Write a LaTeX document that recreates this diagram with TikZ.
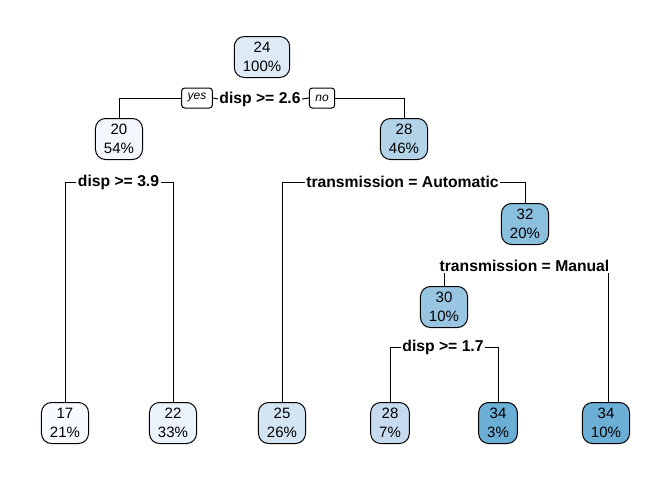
\documentclass[tikz,border=0pt]{standalone}
\usepackage{fontspec}
\setmainfont{Liberation Sans}
\usetikzlibrary{calc}

\definecolor{fillA}{HTML}{DEEBF7}
\definecolor{fillB}{HTML}{F1F7FD}
\definecolor{fillC}{HTML}{B3D3E9}
\definecolor{fillD}{HTML}{F7FBFF}
\definecolor{fillE}{HTML}{EAF2FB}
\definecolor{fillF}{HTML}{D3E4F3}
\definecolor{fillG}{HTML}{8ABFDD}
\definecolor{fillH}{HTML}{98C5E1}
\definecolor{fillI}{HTML}{C6DBEF}
\definecolor{fillJ}{HTML}{6BAED6}

\begin{document}
\begin{tikzpicture}[x=1pt, y=-1pt, line width=1pt,
    box/.style={draw=black, rounded corners=10pt, align=center, inner xsep=8.5pt, inner ysep=1pt,
        minimum height=41pt, font=\fontsize{15}{18.5}\selectfont,
        execute at begin node={\rule{0pt}{17pt}}},
    rule/.style={inner sep=1pt, font=\bfseries\fontsize{15.7}{18}\selectfont},
    tag/.style={draw=black, rounded corners=3pt, inner xsep=6pt, inner ysep=0pt,
        minimum height=20pt, font=\itshape\fontsize{12}{14}\selectfont}]
        \useasboundingbox (0,0) rectangle (672,480);

        \node[box, fill=fillA] (A) at (262, 57) {24\\100\%};
        \node[box, fill=fillB] (B) at (119, 139) {20\\54\%};
        \node[box, fill=fillC] (C) at (404, 139) {28\\46\%};
        \node[box, fill=fillG] (G) at (525, 224) {32\\20\%};
        \node[box, fill=fillH] (H) at (444, 307) {30\\10\%};

        \node[box, fill=fillD] (D) at (65, 423) {17\\21\%};
        \node[box, fill=fillE] (E) at (173, 423) {22\\33\%};
        \node[box, fill=fillF] (F) at (282, 423) {25\\26\%};
        \node[box, fill=fillI] (I) at (390, 423) {28\\7\%};
        \node[box, fill=fillJ] (J) at (498, 423) {34\\3\%};
        \node[box, fill=fillJ] (K) at (606, 423) {34\\10\%};

        \node[rule] (s1) at (260, 99) {disp >= 2.6};
        \node[tag] (yes) at (197, 98) {yes};
        \node[tag] (no) at (322, 98) {no};
        \draw (yes.west) -| (B.north);
        \draw (yes.east) -- (s1.west);
        \draw (s1.east) -- (no.west);
        \draw (no.east) -| (C.north);

        \node[rule] (s2) at (118.5, 182) {disp >= 3.9};
        \draw (s2.west) -| (D.north);
        \draw (s2.east) -| (E.north);

        \node[rule] (s3) at (402.5, 182) {transmission = Automatic};
        \draw (s3.west) -| (F.north);
        \draw (s3.east) -| (G.north);

        \node[rule] (s4) at (524.5, 266) {transmission = Manual};
        \draw (H.north |- s4.south) -- (H.north);
        \draw ($(K.north |- s4.south) + (2, 0)$) -- ($(K.north) + (2, 0)$);

        \node[rule] (s5) at (443, 347) {disp >= 1.7};
        \draw (s5.west) -| (I.north);
        \draw (s5.east) -| (J.north);

    \end{tikzpicture}
\end{document}
